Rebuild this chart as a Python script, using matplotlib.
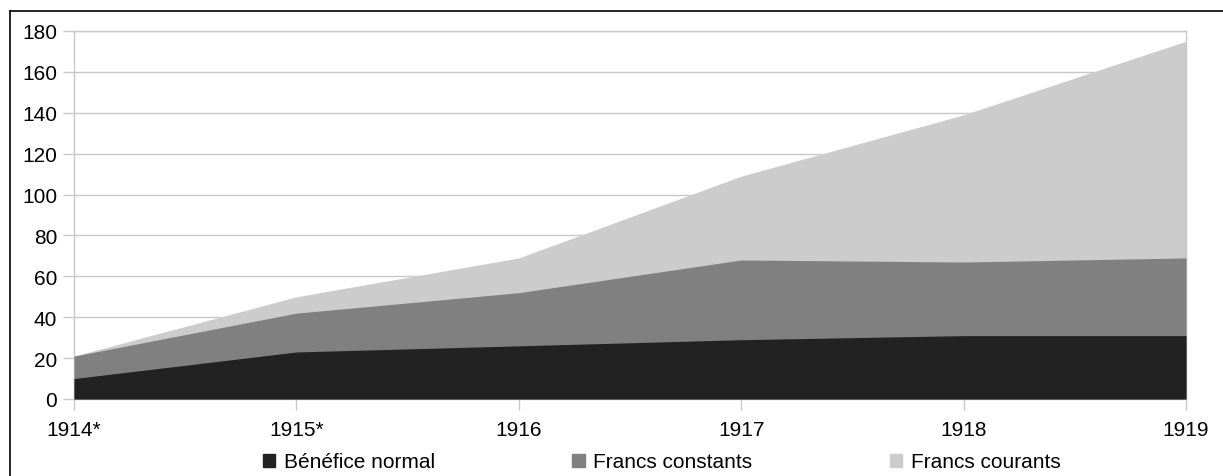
import matplotlib.pyplot as plt
from matplotlib.lines import Line2D
from matplotlib.patches import Patch

plt.rcParams['font.family'] = ['Liberation Sans', 'DejaVu Sans']

years = ["1914*", "1915*", "1916", "1917", "1918", "1919"]
benefice_normal = [10, 23, 26, 29, 31, 31]
francs_constants = [21, 42, 52, 68, 67, 69]
francs_courants = [21, 50, 69, 109, 139, 175]

grid_col = '#c8c8c8'

fig = plt.figure(figsize=(12.23, 4.77), dpi=100)
ax = fig.add_axes([74/1223, 1 - 400/477, (1186 - 74)/1223, (400 - 32)/477])

x = list(range(len(years)))
ax.fill_between(x, 0, francs_courants, color='#cccccc', lw=0, zorder=2)
ax.fill_between(x, 0, francs_constants, color='#808080', lw=0, zorder=3)
ax.fill_between(x, 0, benefice_normal, color='#222222', lw=0, zorder=4)

ax.set_xlim(0, len(years) - 1)
ax.set_ylim(0, 180)
ax.set_yticks(range(0, 181, 20))
ax.set_xticks(x)
ax.set_xticklabels(years)
ax.grid(axis='y', color=grid_col, lw=1, zorder=1)
ax.set_axisbelow(True)
for s in ax.spines.values():
    s.set_color(grid_col)
    s.set_linewidth(1)
ax.tick_params(axis='both', colors=grid_col, labelcolor='black', labelsize=15,
               length=8, width=1)
ax.tick_params(axis='y', pad=4)
ax.tick_params(axis='x', pad=7)

# frame lines from the original screenshot
fig.add_artist(Line2D([10/1223, 1], [1 - 12/477, 1 - 12/477], color='black', lw=1.2))
fig.add_artist(Line2D([10/1223, 10/1223], [0, 1 - 12/477], color='black', lw=1.2))

handles = [Patch(color='#222222'), Patch(color='#808080'), Patch(color='#cccccc')]
labels = ["Bénéfice normal", "Francs constants", "Francs courants"]
fig.legend(handles, labels, ncol=3, loc='center', bbox_to_anchor=(0.541, 1 - 463/477),
           frameon=False, fontsize=15, handlelength=0.6, handleheight=0.6,
           handletextpad=0.4, columnspacing=6.6)

fig.savefig('out.png', dpi=100)
